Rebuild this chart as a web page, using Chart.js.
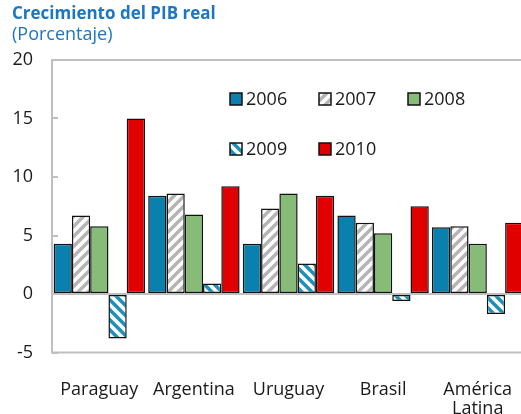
<!DOCTYPE html>
<html>
<head>
<meta charset="utf-8">
<script src="https://cdn.jsdelivr.net/npm/chart.js@4.4.0/dist/chart.umd.min.js"></script>
<style>
  html, body { margin: 0; padding: 0; background: #fff; overflow: hidden; }
  #wrap { width: 532px; height: 414px; }
</style>
</head>
<body>
<div id="wrap"><canvas id="pib" width="532" height="414"></canvas></div>
<script>
// ---- data ----
const categories = ['Paraguay', 'Argentina', 'Uruguay', 'Brasil', ['América', 'Latina']];
const years = ['2006', '2007', '2008', '2009', '2010'];
const v2006 = [4.3, 8.4, 4.3, 6.7, 5.7];
const v2007 = [6.7, 8.6, 7.3, 6.1, 5.8];
const v2008 = [5.8, 6.8, 8.6, 5.2, 4.3];
const v2009 = [-3.8, 0.9, 2.6, -0.6, -1.7];
const v2010 = [15.0, 9.2, 8.4, 7.5, 6.1];
const yTicks = [-5, 0, 5, 10, 15, 20];

const FONT = 'Open Sans';
const AXIS_GRAY = '#bfbfbf';

// diagonal hatch fill
function hatch(color, dir) {
  const s = 10;
  const c = document.createElement('canvas');
  c.width = s; c.height = s;
  const g = c.getContext('2d');
  g.fillStyle = '#fff';
  g.fillRect(0, 0, s, s);
  g.strokeStyle = color;
  g.lineWidth = 3.5;
  g.beginPath();
  [-s, 0, s, 2 * s].forEach(o => {
    if (dir === '/') { g.moveTo(-s, o + s); g.lineTo(o + s, -s); }
    else { g.moveTo(-s, o - s); g.lineTo(2 * s, o + 2 * s); }
  });
  g.stroke();
  return g.createPattern(c, 'repeat');
}

const fills = ['#0a80ae', hatch('#b5b5b5', '/'), '#86bc78', hatch('#1a90bb', '\\'), '#e00000'];
const series = [v2006, v2007, v2008, v2009, v2010];

// plot frame, inward ticks on the value axis
const framePlugin = {
  id: 'frame',
  afterDatasetsDraw(chart) {
    const { ctx, chartArea: a, scales: { y } } = chart;
    ctx.save();
    ctx.strokeStyle = AXIS_GRAY;
    ctx.lineWidth = 2;
    ctx.strokeRect(a.left, a.top, a.right - a.left, a.bottom - a.top);
    ctx.beginPath();
    yTicks.forEach(v => {
      const py = Math.round(y.getPixelForValue(v));
      ctx.moveTo(a.left, py);
      ctx.lineTo(a.left + 6, py);
    });
    ctx.stroke();
    ctx.restore();
  }
};

// legend inside the plot, two rows
const legendPlugin = {
  id: 'inlineLegend',
  afterDraw(chart) {
    const { ctx, chartArea: a } = chart;
    ctx.save();
    ctx.font = '18px "' + FONT + '"';
    ctx.textBaseline = 'middle';
    chart.data.datasets.forEach((ds, i) => {
      const col = i % 3, row = Math.floor(i / 3);
      const x = a.left + 178 + col * 89;
      const yc = a.top + 39 + row * 50;
      ctx.fillStyle = ds.backgroundColor;
      ctx.fillRect(x, yc - 6, 12, 12);
      ctx.strokeStyle = '#111';
      ctx.lineWidth = 1.5;
      ctx.strokeRect(x, yc - 6, 12, 12);
      ctx.fillStyle = '#1a1a1a';
      ctx.fillText(ds.label, x + 16, yc + 1);
    });
    ctx.restore();
  }
};

new Chart(document.getElementById('pib'), {
  type: 'bar',
  data: {
    labels: categories,
    datasets: years.map((yr, i) => ({
      label: yr,
      data: series[i],
      backgroundColor: fills[i],
      borderColor: '#111',
      borderWidth: 1.5,
      borderSkipped: false,
      categoryPercentage: 0.966,
      barPercentage: 1.0
    }))
  },
  options: {
    responsive: false,
    animation: false,
    layout: { autoPadding: false, padding: { left: 12, right: 7, top: 4, bottom: 0 } },
    plugins: {
      legend: { display: false },
      tooltip: { enabled: false },
      title: {
        display: true,
        text: 'Crecimiento del PIB real',
        align: 'start',
        color: '#1b76c4',
        font: { family: FONT, size: 17, weight: 'bold' },
        padding: { top: 0, bottom: 0 }
      },
      subtitle: {
        display: true,
        text: '(Porcentaje)',
        align: 'start',
        color: '#1b76c4',
        font: { family: FONT, size: 18 },
        padding: { top: 0, bottom: 14 }
      }
    },
    scales: {
      x: {
        grid: { display: false, drawTicks: false },
        border: { display: false },
        afterFit: s => { s.height = 61.5; s.paddingLeft = 0; s.paddingRight = 0; },
        ticks: {
          color: '#1a1a1a',
          font: { family: FONT, size: 18, lineHeight: 1.05 },
          padding: 28,
          maxRotation: 0,
          autoSkip: false
        }
      },
      y: {
        min: -5,
        max: 20,
        afterBuildTicks: s => { s.ticks = yTicks.map(v => ({ value: v })); },
        afterFit: s => { s.width = 40; },
        grid: {
          drawTicks: false,
          z: 1,
          lineWidth: 2,
          color: c => (c.tick && c.tick.value === 0 ? AXIS_GRAY : 'transparent')
        },
        border: { display: false },
        ticks: {
          color: '#1a1a1a',
          font: { family: FONT, size: 18 },
          padding: 19
        }
      }
    }
  },
  plugins: [framePlugin, legendPlugin]
});
</script>
</body>
</html>
